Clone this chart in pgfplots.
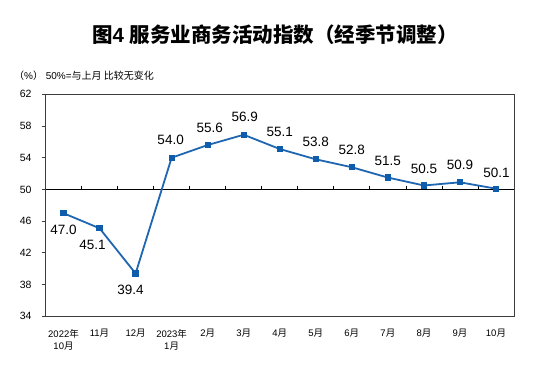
\documentclass[border=0pt]{standalone}
\usepackage{fontspec}
\setmainfont{Liberation Sans}
\newfontfamily\cjk{Noto Sans CJK SC}
\newcommand\zh[1]{{\cjk #1}}
\usepackage{pgfplots}
\usepackage{pgfplotstable}
\pgfplotsset{compat=1.18}
\definecolor{lineblue}{RGB}{31,102,176}
\definecolor{markblue}{RGB}{14,92,172}
\definecolor{boxgray}{RGB}{60,60,60}
\pgfplotstableread{
x y lab dx dy
0 47.0 47.0 0 -17
1 45.1 45.1 -7 -17
2 39.4 39.4 -5 -16
3 54.0 54.0 -1 17.5
4 55.6 55.6 2 17.5
5 56.9 56.9 1 18
6 55.1 55.1 0 17
7 53.8 53.8 0 17.5
8 52.8 52.8 0 17
9 51.5 51.5 0 17
10 50.5 50.5 0 17
11 50.9 50.9 0 17.5
12 50.1 50.1 0.5 16
}\datatable
\begin{document}
\begin{tikzpicture}
\path[use as bounding box, fill=white] (0,0) rectangle (541bp,384bp);
\node[font=\fontsize{20.5bp}{24bp}\selectfont\bfseries] at (275bp,349bp) {\zh{图}4 \zh{服务业商务活动指数（经季节调整）}};
\node[anchor=west, font=\fontsize{10bp}{12bp}\selectfont, inner sep=0pt] at (14bp,308.5bp) {\zh{（}\%\zh{）} 50\%=\zh{与上月 比较无变化}};
\begin{axis}[
  at={(45.5bp,67.7bp)}, anchor=south west,
  scale only axis, width=468.5bp, height=222bp,
  xmin=-0.5, xmax=12.5, ymin=34, ymax=62,
  ytick={34,38,...,62},
  xtick={0,...,12},
  xticklabels={{2022\zh{年}\\10\zh{月}},{11\zh{月}},{12\zh{月}},{2023\zh{年}\\1\zh{月}},{2\zh{月}},{3\zh{月}},{4\zh{月}},{5\zh{月}},{6\zh{月}},{7\zh{月}},{8\zh{月}},{9\zh{月}},{10\zh{月}}},
  x tick style={draw=none},
  y tick style={draw=boxgray, line width=0.75bp},
  tick align=outside,
  ytick pos=left,
  xtick pos=bottom,
  major tick length=3.5bp,
  axis line style={draw=boxgray, line width=0.9bp},
  /pgf/number format/assume math mode=true,
  yticklabel style={font=\fontsize{10.5bp}{12bp}\selectfont, xshift=-7bp},
  xticklabel style={font=\fontsize{9.5bp}{12bp}\selectfont, align=center, anchor=north, yshift=-6bp},
  clip=false,
]
\draw[black, line width=0.75bp] (axis cs:-0.5,50) -- (axis cs:12.5,50);
\pgfplotsinvokeforeach{0.5,1.5,2.5,3.5,4.5,5.5,6.5,7.5,8.5,9.5,10.5,11.5}{
  \draw[black, line width=0.75bp] (axis cs:#1,50) -- (axis cs:#1,50.45);
}
\addplot[color=lineblue, line width=1.8bp, mark=square*, mark size=2.6bp,
  mark options={fill=markblue, draw=markblue, line width=0pt},
  point meta=explicit symbolic,
  visualization depends on={\thisrow{dx} \as \labdx},
  visualization depends on={\thisrow{dy} \as \labdy},
  nodes near coords,
  nodes near coords style={anchor=center, xshift=\labdx bp, yshift=\labdy bp, text=black,
    font=\fontsize{13.5bp}{16bp}\selectfont},
] table[x=x, y=y, meta=lab] {\datatable};
\end{axis}
\end{tikzpicture}
\end{document}
